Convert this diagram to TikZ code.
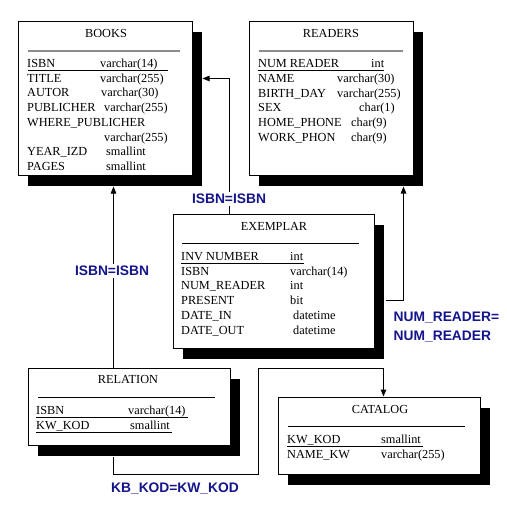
\documentclass[tikz,border=0pt]{standalone}
\usepackage{fontspec}
\setmainfont{Liberation Serif}
\newfontfamily\lblfont{Liberation Sans}
\usetikzlibrary{arrows.meta,shadows,calc}
\definecolor{navy}{RGB}{20,20,140}
\tikzset{
  tbl/.style={draw=black, line width=1pt, fill=white, inner sep=0pt,
    general shadow={shadow xshift=10pt, shadow yshift=-10.5pt, fill=black, opacity=1}},
  fld/.style={inner sep=0pt, anchor=base west, font=\fontsize{12.3}{14}\selectfont},
  ttl/.style={inner sep=0pt, anchor=base, font=\fontsize{12.3}{14}\selectfont},
  sepg/.style={draw=gray!90, line width=2pt},
  sepb/.style={draw=black, line width=1pt},
  uline/.style={draw=black, line width=0.9pt},
  conn/.style={draw=black, line width=1pt},
  arr/.style={-{Triangle[length=7pt,width=5.5pt]}},
  lbl/.style={inner sep=2.5pt, fill=white, text=navy, font=\lblfont\bfseries\fontsize{13.8}{15}\selectfont}
}
\begin{document}
\begin{tikzpicture}[x=1pt,y=-1pt]
\useasboundingbox[fill=white] (0,0) rectangle (506,508);
% boxes
\node[tbl, minimum width=174pt, minimum height=153pt] (books) at (105,98.5) {};
\node[tbl, minimum width=164pt, minimum height=153pt] (readers) at (331,98.5) {};
\node[tbl, minimum width=201pt, minimum height=134pt] (exemplar) at (273.5,281) {};
\node[tbl, minimum width=202pt, minimum height=77pt] (relation) at (129,406.5) {};
\node[tbl, minimum width=202pt, minimum height=77pt] (catalog) at (379,435.5) {};
% BOOKS
\node[ttl] (bt) at (106,37.5) {BOOKS};
\draw[sepg] (28,51) -- (180,51);
\node[fld] (b1) at (27,67.5) {ISBN};
\node[fld] (b1t) at (100,67.5) {varchar(14)};
\draw[uline] (28,70) -- (168,70);
\node[fld] (b2) at (27,82.2) {TITLE};
\node[fld] (b2t) at (100,82.2) {varchar(255)};
\node[fld] (b3) at (27,96.9) {AUTOR};
\node[fld] (b3t) at (101,96.9) {varchar(30)};
\node[fld] (b4) at (27,111.6) {PUBLICHER};
\node[fld] (b4t) at (104,111.6) {varchar(255)};
\node[fld] (b5) at (27,126.3) {WHERE\_PUBLICHER};
\node[fld] (b5t) at (104,141) {varchar(255)};
\node[fld] (b6) at (27,155.7) {YEAR\_IZD};
\node[fld] (b6t) at (106,155.7) {smallint};
\node[fld] (b7) at (27,170.4) {PAGES};
\node[fld] (b7t) at (106,170.4) {smallint};
% READERS
\node[ttl] (rt) at (331,37.5) {READERS};
\draw[sepg] (259,51) -- (403,51);
\node[fld] (r1) at (258,67.5) {NUM READER};
\node[fld] (r1t) at (371,67.5) {int};
\draw[uline] (258,70) -- (384,70);
\node[fld] (r2) at (258,82.3) {NAME};
\node[fld] (r2t) at (337,82.3) {varchar(30)};
\node[fld] (r3) at (258,97.1) {BIRTH\_DAY};
\node[fld] (r3t) at (337,97.1) {varchar(255)};
\node[fld] (r4) at (258,111.9) {SEX};
\node[fld] (r4t) at (359,111.9) {char(1)};
\node[fld] (r5) at (258,126.7) {HOME\_PHONE};
\node[fld] (r5t) at (351,126.7) {char(9)};
\node[fld] (r6) at (258,141.5) {WORK\_PHON};
\node[fld] (r6t) at (351,141.5) {char(9)};
% EXEMPLAR
\node[ttl] (et) at (274,230.5) {EXEMPLAR};
\draw[sepb] (182,243) -- (359,243);
\node[fld] (e1) at (181,260.5) {INV NUMBER};
\node[fld] (e1t) at (290,260.5) {int};
\draw[uline] (181,263) -- (304,263);
\node[fld] (e2) at (181,275.2) {ISBN};
\node[fld] (e2t) at (290,275.2) {varchar(14)};
\node[fld] (e3) at (181,289.9) {NUM\_READER};
\node[fld] (e3t) at (290,289.9) {int};
\node[fld] (e4) at (181,304.6) {PRESENT};
\node[fld] (e4t) at (290,304.6) {bit};
\node[fld] (e5) at (181,319.3) {DATE\_IN};
\node[fld] (e5t) at (293,319.3) {datetime};
\node[fld] (e6) at (181,334) {DATE\_OUT};
\node[fld] (e6t) at (293,334) {datetime};
% RELATION
\node[ttl] (lt) at (128,383.5) {RELATION};
\draw[sepb] (38,397) -- (215,397);
\node[fld] (l1) at (36,414.5) {ISBN};
\node[fld] (l1t) at (128,414.5) {varchar(14)};
\draw[uline] (36,417) -- (188,417);
\node[fld] (l2) at (36,429.5) {KW\_KOD};
\node[fld] (l2t) at (130,429.5) {smallint};
\draw[uline] (36,432) -- (172,432);
% CATALOG
\node[ttl] (ct) at (380,413.5) {CATALOG};
\draw[sepb] (288,426) -- (465,426);
\node[fld] (c1) at (287,443.5) {KW\_KOD};
\node[fld] (c1t) at (381,443.5) {smallint};
\draw[uline] (287,446) -- (423,446);
\node[fld] (c2) at (287,458.5) {NAME\_KW};
\node[fld] (c2t) at (381,458.5) {varchar(255)};
% connectors
\draw[conn, arr] ($(exemplar.north west)+(57,0)$) |- ($(books.north east)+(10,57)$);
\draw[conn, arr] ($(relation.north west)+(86,0)$) -- ($(books.south west)+(96,11)$);
\draw[conn, arr] ($(exemplar.north east)+(11,87)$) -| ($(readers.south east)+(-10,11)$);
\draw[conn, arr] ($(relation.south west)+(86,11)$) -- ++(0,18) -- ++(145,0) -- ++(0,-106) -| ($(catalog.north west)+(106,0)$);
% labels
\node[lbl] (k1) at (229,199) {ISBN=ISBN};
\node[lbl] (k2) at (112,271) {ISBN=ISBN};
\node[lbl, anchor=west, fill=none] (k3) at (391,318) {NUM\_READER=};
\node[lbl, anchor=west, fill=none] (k4) at (391,337) {NUM\_READER};
\node[lbl, fill=none] (k5) at (175,489) {KB\_KOD=KW\_KOD};
\end{tikzpicture}
\end{document}
